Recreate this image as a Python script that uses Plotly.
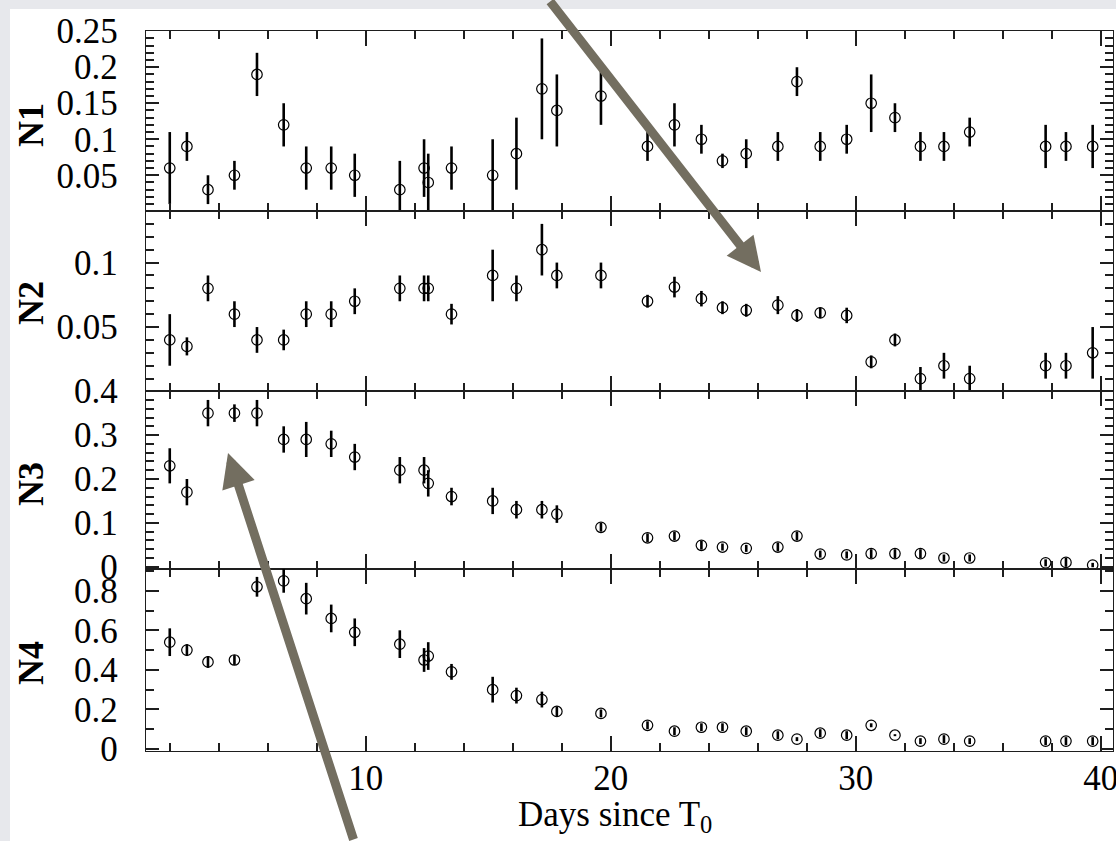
import plotly.graph_objects as go

# ---------------- data ----------------
days = [2.0, 2.7, 3.56, 4.64, 5.56, 6.65, 7.57, 8.59, 9.55, 11.39, 12.38, 12.55, 13.5,
        15.18, 16.15, 17.19, 17.8, 19.6, 21.5, 22.6, 23.7, 24.56, 25.53, 26.82, 27.6,
        28.55, 29.63, 30.63, 31.6, 32.64, 33.6, 34.65, 37.75, 38.58, 39.67]

n1 = [0.06, 0.09, 0.03, 0.05, 0.19, 0.12, 0.06, 0.06, 0.05, 0.03, 0.06, 0.04, 0.06,
      0.05, 0.08, 0.17, 0.14, 0.16, 0.09, 0.12, 0.10, 0.07, 0.08, 0.09, 0.18,
      0.09, 0.10, 0.15, 0.13, 0.09, 0.09, 0.11, 0.09, 0.09, 0.09]
n1_err = [0.05, 0.02, 0.02, 0.02, 0.03, 0.03, 0.03, 0.03, 0.03, 0.04, 0.04, 0.04, 0.03,
          0.05, 0.05, 0.07, 0.05, 0.04, 0.02, 0.03, 0.02, 0.01, 0.02, 0.02, 0.02,
          0.02, 0.02, 0.04, 0.02, 0.02, 0.02, 0.02, 0.03, 0.02, 0.03]

n2 = [0.04, 0.035, 0.08, 0.06, 0.04, 0.04, 0.06, 0.06, 0.07, 0.08, 0.08, 0.08, 0.06,
      0.09, 0.08, 0.11, 0.09, 0.09, 0.07, 0.081, 0.072, 0.065, 0.063, 0.067, 0.059,
      0.061, 0.059, 0.023, 0.04, 0.01, 0.02, 0.01, 0.02, 0.02, 0.03]
n2_err = [0.02, 0.007, 0.01, 0.01, 0.01, 0.008, 0.01, 0.01, 0.01, 0.01, 0.01, 0.01, 0.008,
          0.02, 0.01, 0.02, 0.01, 0.01, 0.005, 0.008, 0.006, 0.005, 0.005, 0.007, 0.005,
          0.004, 0.006, 0.005, 0.005, 0.009, 0.01, 0.01, 0.01, 0.01, 0.02]

n3 = [0.23, 0.17, 0.35, 0.35, 0.35, 0.29, 0.29, 0.28, 0.25, 0.22, 0.22, 0.19, 0.16,
      0.15, 0.13, 0.13, 0.12, 0.09, 0.066, 0.07, 0.049, 0.045, 0.042, 0.045, 0.07,
      0.029, 0.027, 0.03, 0.03, 0.03, 0.02, 0.02, 0.009, 0.01, 0.004]
n3_err = [0.04, 0.03, 0.03, 0.02, 0.03, 0.03, 0.04, 0.03, 0.03, 0.03, 0.03, 0.03, 0.02,
          0.03, 0.02, 0.02, 0.02, 0.01, 0.01, 0.01, 0.01, 0.008, 0.008, 0.01, 0.01,
          0.008, 0.008, 0.01, 0.01, 0.01, 0.008, 0.008, 0.008, 0.01, 0.005]

n4 = [0.54, 0.50, 0.44, 0.45, 0.82, 0.85, 0.76, 0.66, 0.59, 0.53, 0.45, 0.47, 0.39,
      0.30, 0.27, 0.25, 0.19, 0.18, 0.12, 0.09, 0.11, 0.11, 0.09, 0.07, 0.05,
      0.08, 0.07, 0.12, 0.07, 0.04, 0.05, 0.04, 0.04, 0.04, 0.04]
n4_err = [0.07, 0.03, 0.03, 0.025, 0.05, 0.06, 0.08, 0.07, 0.07, 0.07, 0.06, 0.07, 0.04,
          0.065, 0.04, 0.04, 0.025, 0.02, 0.02, 0.02, 0.02, 0.02, 0.02, 0.02, 0.01,
          0.02, 0.02, 0.01, 0.005, 0.015, 0.02, 0.015, 0.02, 0.02, 0.02]

panel_names = ["N1", "N2", "N3", "N4"]
x_major_step, x_minor_step = 10, 2
y_major_steps = [0.05, 0.05, 0.1, 0.2]
y_minor_steps = [0.01, 0.01, 0.02, 0.1]

# ---------------- styling ----------------
FONT = "Liberation Serif, Times New Roman, serif"
AXC = "#1e1e1e"
ARROWC = "#736e60"
FRAME = "rgb(231,232,236)"
W, H = 1116, 841
ML, MR, MT, MB = 146, 3, 31, 90
PW, PH = W - ML - MR, H - MT - MB

x_range = [1.03, 40.5]
y_ranges = [[0.0004, 0.2503], [0.0004, 0.14], [-0.005, 0.4004], [-0.01, 0.91]]
domains = [[0.75, 1.0], [0.5, 0.75], [0.2528, 0.5], [0.0, 0.2528]]

series = [(n1, n1_err), (n2, n2_err), (n3, n3_err), (n4, n4_err)]

fig = go.Figure()
for i, (vals, errs) in enumerate(series):
    k = "" if i == 0 else str(i + 1)
    fig.add_trace(go.Scatter(
        x=days, y=vals, mode="markers",
        xaxis="x" + k, yaxis="y" + k,
        marker=dict(symbol="circle-open", size=10.5, color="black",
                    line=dict(width=1.2, color="black")),
        error_y=dict(type="data", array=errs, visible=True, color="black",
                     thickness=2.6, width=0),
        showlegend=False, hoverinfo="skip",
    ))

layout = dict(
    template="none",
    width=W, height=H,
    margin=dict(l=ML, r=MR, t=MT, b=MB, pad=0),
    paper_bgcolor="white",
    plot_bgcolor="white",
    font=dict(family=FONT, size=35, color="black"),
    showlegend=False,
)

for i in range(4):
    k = "" if i == 0 else str(i + 1)
    last = (i == 3)
    layout["xaxis" + k] = dict(
        domain=[0, 1], range=x_range, anchor="y" + k,
        matches=None if i == 0 else "x",
        tickmode="linear", tick0=0, dtick=x_major_step,
        showticklabels=last, ticks="inside", ticklen=15, tickwidth=1.6, tickcolor=AXC,
        minor=dict(tickmode="linear", tick0=0, dtick=x_minor_step, ticks="inside",
                   ticklen=8, tickwidth=1.6, tickcolor=AXC, showgrid=False),
        showline=True, linecolor=AXC, linewidth=1.3, mirror="allticks",
        showgrid=False, zeroline=False,
        tickfont=dict(family=FONT, size=35, color="black"),
        ticklabelstandoff=-4, ticklabeloverflow="allow",
    )
    layout["yaxis" + k] = dict(
        domain=domains[i], range=y_ranges[i], anchor="x" + k,
        tickmode="linear", tick0=0, dtick=y_major_steps[i],
        ticks="inside", ticklen=13, tickwidth=1.6, tickcolor=AXC,
        minor=dict(tickmode="linear", tick0=0, dtick=y_minor_steps[i], ticks="inside",
                   ticklen=8, tickwidth=1.6, tickcolor=AXC, showgrid=False),
        showline=True, linecolor=AXC, linewidth=1.3, mirror="allticks",
        showgrid=False, zeroline=False,
        tickfont=dict(family=FONT, size=35, color="black"),
        ticklabelstandoff=20, ticklabeloverflow="allow",
    )

fig.update_layout(**layout)

def px_x(px):
    return (px - ML) / PW

def px_y(py):
    return (MT + PH - py) / PH

shapes = [
    # grey slide frame at the top and left edges
    dict(type="rect", xref="paper", yref="paper",
         x0=px_x(-5), x1=px_x(W + 5), y0=px_y(9), y1=px_y(-5),
         fillcolor=FRAME, line=dict(width=0), layer="above"),
    dict(type="rect", xref="paper", yref="paper",
         x0=px_x(-5), x1=px_x(10), y0=px_y(H + 5), y1=px_y(-5),
         fillcolor=FRAME, line=dict(width=0), layer="above"),
]

annotations = []
centers = [125, 303, 484, 663]
for name, cy in zip(panel_names, centers):
    annotations.append(dict(
        text="<b>" + name + "</b>", xref="paper", yref="paper",
        x=px_x(31), y=px_y(cy), xanchor="center", yanchor="middle",
        textangle=-90, showarrow=False,
        font=dict(family=FONT, size=36, color="black"),
    ))
annotations.append(dict(
    text="Days since T<sub>0</sub>", xref="paper", yref="paper",
    x=px_x(615), y=px_y(817), xanchor="center", yanchor="middle",
    showarrow=False, font=dict(family=FONT, size=35, color="black"),
))
arrow_w = 9
annotations.append(dict(
    text="", xref="paper", yref="paper", x=px_x(761), y=px_y(272),
    ax=-212, ay=-282, showarrow=True, arrowhead=2, arrowwidth=arrow_w,
    arrowsize=6.8 / arrow_w, arrowcolor=ARROWC, standoff=0,
))
annotations.append(dict(
    text="", xref="paper", yref="paper", x=px_x(228), y=px_y(453),
    ax=126, ay=398, showarrow=True, arrowhead=2, arrowwidth=arrow_w,
    arrowsize=6.8 / arrow_w, arrowcolor=ARROWC, standoff=0,
))
fig.update_layout(shapes=shapes, annotations=annotations)

fig.write_html("out.html")
